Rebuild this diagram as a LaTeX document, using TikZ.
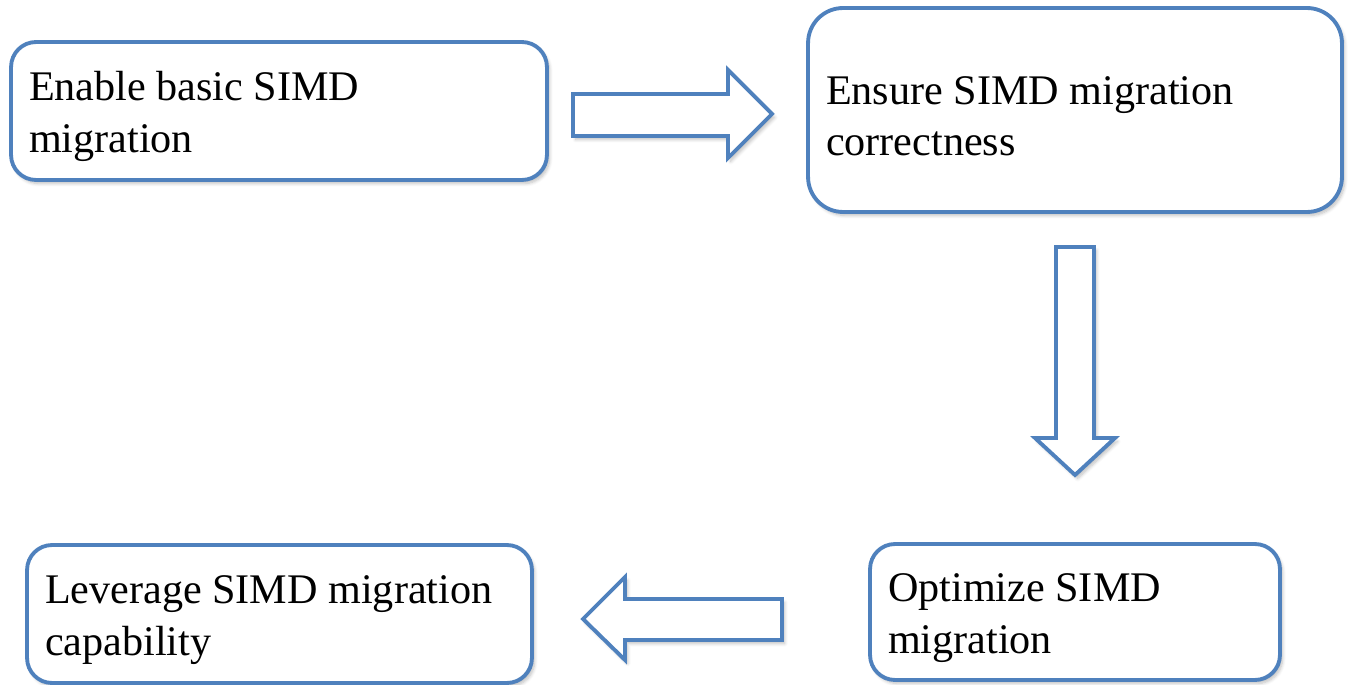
\documentclass[tikz,border=0pt]{standalone}
\usepackage{fontspec}
\setmainfont{Liberation Serif}
\usetikzlibrary{shadows.blur}

\definecolor{boxblue}{HTML}{4F81BD}

\tikzset{
  stage/.style={draw=boxblue, line width=2.2pt, fill=white, rounded corners=0.5cm,
    inner xsep=0.36cm, align=flush left,
    font=\fontsize{24}{29.5}\selectfont,
    execute at begin node={\rule{0pt}{23pt}},
    blur shadow={shadow xshift=1.5pt, shadow yshift=-2pt, shadow opacity=25, shadow blur steps=6}},
  bigarrow/.style={draw=boxblue, line width=2.2pt, fill=white, line join=miter,
    blur shadow={shadow xshift=1.5pt, shadow yshift=-2pt, shadow opacity=25, shadow blur steps=6}}
}

\begin{document}
\begin{tikzpicture}[x=0.02cm, y=-0.02cm]
    \useasboundingbox (0,0) rectangle (1348,685);

    % Stages
    \node[stage, minimum width=10.72cm, minimum height=2.76cm, text width=10cm] (enable) at (279,111)
        {Enable basic SIMD\\migration};
    \node[stage, rounded corners=0.7cm, minimum width=10.68cm, minimum height=4.08cm, text width=9.96cm] (ensure) at (1075,110)
        {Ensure SIMD migration\\correctness};
    \node[stage, minimum width=8.2cm, minimum height=2.72cm, text width=7.48cm] (optimize) at (1075,612)
        {Optimize SIMD\\migration};
    \node[stage, minimum width=10.1cm, minimum height=2.76cm, text width=9.38cm] (leverage) at (279.5,614)
        {Leverage SIMD migration\\capability};

    % Block arrows
    \draw[bigarrow] (573,94) -- (728,94) -- (728,70) -- (772,114) -- (728,158) -- (728,136) -- (573,136) -- cycle;
    \draw[bigarrow] (1056,247) -- (1094,247) -- (1094,438) -- (1115,438) -- (1075,475) -- (1035,438) -- (1056,438) -- cycle;
    \draw[bigarrow] (782,599) -- (625,599) -- (625,577) -- (583,619) -- (625,660) -- (625,640) -- (782,640) -- cycle;
\end{tikzpicture}
\end{document}
